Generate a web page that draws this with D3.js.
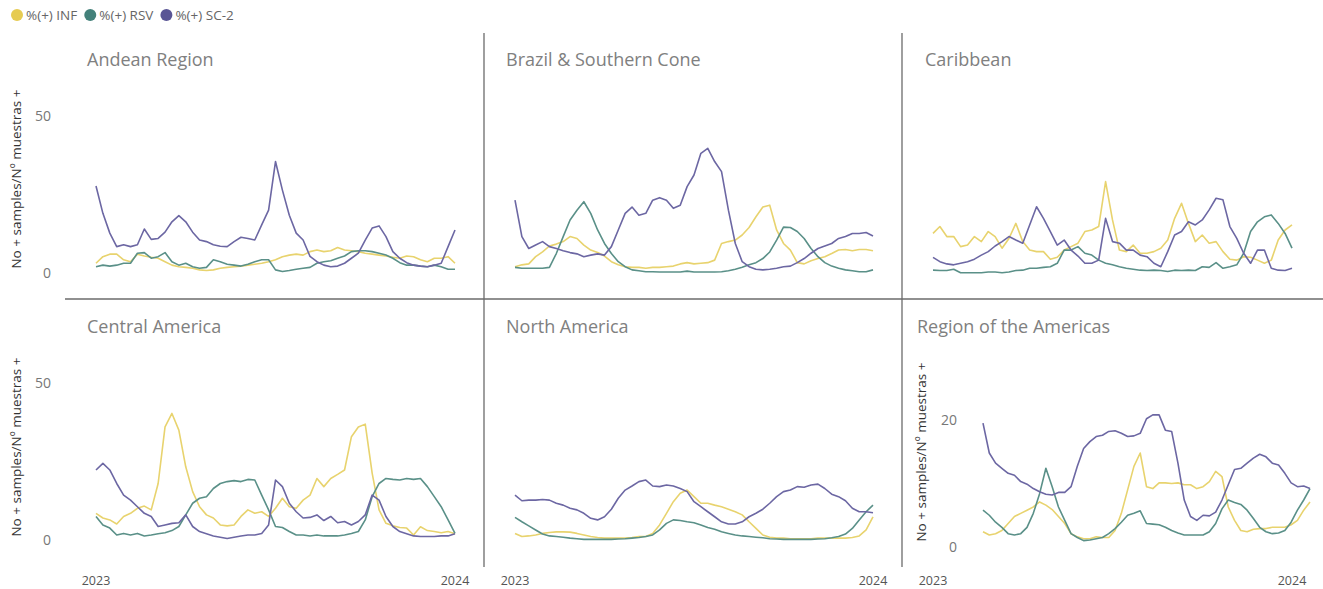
<!DOCTYPE html>
<html>
<head>
  <meta charset="utf-8">
  <script src="https://d3js.org/d3.v7.min.js"></script>
  <style>
    body { margin: 0; background: #fff; }
    text { font-family: "Segoe UI", "Open Sans", sans-serif; }
  </style>
</head>
<body>
<div id="my_dataviz"></div>
<script>
// weekly points, first week of 2023 to first week of 2024
const weeks = d3.range(53).map(i => new Date(2023, 0, 1 + 7 * i));
const xTickLabels = ["2023", "2024"];
const seriesNames = ["%(+) INF", "%(+) RSV", "%(+) SC-2"];
const regions = ["Andean Region", "Brazil & Southern Cone", "Caribbean", "Central America", "North America", "Region of the Americas"];

const andeanINF = [3.1,5.2,6.0,6.0,4.2,3.6,6.0,5.4,5.0,4.7,3.6,2.5,2.0,1.8,1.5,1.0,0.8,1.0,1.5,1.8,2.0,2.2,2.5,2.8,3.1,3.6,4.2,5.2,5.7,6.0,5.7,6.8,7.3,6.8,7.1,8.1,7.3,7.1,6.8,6.3,6.0,5.7,5.4,5.0,4.7,5.4,5.2,4.2,3.6,4.7,4.7,5.2,3.1];
const andeanRSV = [2.0,2.5,2.2,2.5,3.1,3.1,6.3,6.5,4.7,5.2,6.5,3.6,2.5,3.1,2.0,1.5,1.8,4.2,3.6,2.8,2.5,2.2,2.8,3.6,4.2,4.2,1.0,0.5,0.8,1.2,1.5,1.8,3.1,3.6,3.9,4.7,5.4,6.8,7.1,7.1,6.8,6.3,5.7,4.7,3.3,2.5,2.5,2.2,2.0,2.5,2.0,1.2,1.2];
const andeanSC2 = [27.7,19,12.7,8.4,9,8.4,9,14,10.7,11,13,16.3,18.3,16.3,13,10.5,10,9,8.5,8.4,10,11.4,11,10.5,15.3,20,35.5,26.4,18.4,12.7,10.5,5.3,3.6,2.5,2.0,2.2,3.1,4.7,6.3,10.5,14.3,15,11.6,6.8,4.7,3.3,2.5,2.2,2.0,2.5,3.1,8.4,13.7];

const brazilINF = [2.0,2.6,2.9,5.2,6.7,8.6,9.2,10,11.6,11,8.9,7.3,6.5,5.4,3.6,2.6,2.0,1.8,1.8,1.5,1.8,1.8,2.0,2.2,2.9,3.3,2.9,3.1,3.3,4.1,9.4,10,10.5,12.1,14.5,17.9,21,21.6,13.7,9.4,7.3,3.3,2.9,3.9,4.6,5.2,6.2,7.3,7.5,7.1,7.5,7.5,7.1];
const brazilRSV = [1.8,1.5,1.5,1.5,1.5,1.8,6.2,11.6,16.9,20,22.7,19,13.7,9.4,6.2,3.6,2.0,1.0,0.7,0.4,0.4,0.3,0.3,0.3,0.3,0.6,0.3,0.3,0.3,0.3,0.4,0.7,1.2,1.8,2.6,3.3,4.6,6.7,10.5,14.6,14.5,13.2,11,7.8,5.2,3.3,2.2,1.5,1.0,0.7,0.4,0.4,1.0];
const brazilSC2 = [23.2,11.6,7.8,8.9,10,8.4,7.8,7.1,6.5,6.1,5.2,5.7,6.1,5.7,8.4,13.7,19,21,18.4,19,23.2,24,23.2,20.6,21.6,27.5,31.2,38.1,39.7,35.5,32.3,20,9.4,3.6,2.0,1.2,1.0,1.2,1.5,2.0,2.2,3.3,4.6,6.3,7.8,8.6,9.4,11,11.6,12.6,12.6,12.9,11.8];

const caribINF = [12.6,14.8,11.6,11.6,8.4,8.9,11.6,10,13.2,11.6,7.9,11,15.8,10,7.3,6.8,6.8,4.4,5.0,7.3,8.4,9.5,13.2,13.7,14.8,29.1,16.9,7.3,6.8,8.9,6.3,6.3,6.8,7.9,10.5,17.4,22.2,15.8,10,12.1,9.5,10,6.8,4.4,4.1,5.2,5.0,4.1,3.1,4.1,10.5,13.7,15.3];
const caribRSV = [0.9,0.8,0.8,1.2,0.1,0.1,0.1,0.1,0.3,0.3,0.1,0.3,0.8,0.9,1.5,1.5,1.8,2.0,3.1,7.3,7.3,8.4,6.3,5.7,4.1,3.1,2.6,2.0,1.5,1.2,0.9,0.8,0.9,0.8,0.5,0.9,0.8,0.9,0.8,2.0,1.8,3.3,1.5,2.0,2.6,6.3,13.2,16.3,17.9,18.5,15.8,12.6,7.9];
const caribSC2 = [5.0,3.6,2.9,2.6,3.1,3.6,4.4,5.7,6.8,8.6,10,11.6,10.5,9.5,15.3,21.1,17.4,13.2,8.9,10.5,7.3,5.4,3.1,3.1,4.1,17.4,10,9.5,7.3,7.3,5.7,5.2,3.1,2.0,6.8,12.1,13.2,16.3,15.3,16.9,20.1,23.8,23.3,14.8,11,6.3,3.1,7.3,7.3,1.5,0.9,0.8,1.5];

const centralINF = [8.5,7.0,6.4,5.1,7.5,8.5,10.1,10.8,9.6,18,36,40.3,35,23.3,15.4,10.6,8,7.0,4.8,4.5,4.8,7.5,9.6,8.5,9.0,7.5,10.1,13.3,10.6,10.1,12.7,14.3,19.6,17,19.6,20.9,22.3,32.9,36,36.9,21.3,9.6,5.3,4.5,4.0,3.8,1.6,4.2,3.0,2.7,2.3,2.7,2.0];
const centralRSV = [7.5,4.8,3.8,1.6,2.1,1.6,2.1,1.3,1.6,2.0,2.3,3.0,4.3,8,11.7,13.3,13.8,16.4,18,18.6,18.9,18.6,19.3,19.1,14.3,9.6,4.3,4.0,2.7,1.6,1.6,1.3,1.6,1.3,1.3,1.3,1.6,2.1,2.7,6.4,13.8,18,19.6,19.3,19.1,19.6,19.3,19.6,17,13.8,10.6,6.4,2.1];
const centralSC2 = [22.3,24.4,22.3,18,14.3,12.7,10.6,8.5,7.5,4.3,4.8,5.3,5.5,8,4.3,2.7,2.0,1.3,0.9,0.5,0.9,1.3,1.6,1.6,2.1,4.8,19.1,17,11.7,9,7.0,7.2,8,6.2,7.5,5.5,5.9,4.8,5.9,8,14.3,12.7,7.5,4.3,2.7,2.0,1.3,1.1,1.1,1.1,1.3,1.3,2.0];

const northINF = [2.1,1.1,1.3,1.6,2.1,2.4,2.6,2.6,2.5,2.1,1.6,1.1,0.8,0.6,0.6,0.6,0.6,0.8,1.1,1.1,2.1,4.8,8.5,12.2,14.9,15.9,13.8,11.7,11.7,11.1,10.6,9.8,9,8,5.8,3.7,1.6,0.9,0.6,0.6,0.4,0.4,0.4,0.4,0.6,0.6,0.6,0.6,0.6,0.8,1.3,3.2,7.4];
const northRSV = [7.2,5.8,4.5,3.2,1.9,1.3,1.1,0.9,0.6,0.4,0.2,0.2,0.2,0.2,0.2,0.3,0.4,0.6,0.8,1.1,1.6,3.2,5.3,6.4,6.2,5.8,5.5,4.8,4.0,3.4,2.6,2.1,1.6,1.3,1.1,0.9,0.7,0.4,0.3,0.2,0.2,0.2,0.2,0.2,0.3,0.4,0.7,1.1,1.9,3.7,6.4,9,11.1];
const northSC2 = [14.3,12.5,12.7,12.7,12.9,12.7,11.7,11.1,10.1,9.6,8.5,6.9,6.4,7.4,9.8,13.3,15.9,17.2,18.6,19.1,17.2,17,17.5,17.2,16.4,15.4,12.2,10.6,9,7.4,5.8,5.1,5.1,5.8,7.4,8.5,9.8,11.7,13.8,15.4,15.9,17,16.8,17.5,17.8,16.4,14.6,13.8,12.5,10.1,9,9,8.7];

const americasINF = [2.4,1.9,2.1,2.6,3.7,4.8,5.3,5.8,6.3,7.1,6.6,5.9,4.8,3.7,2.1,1.6,1.3,1.3,1.6,1.5,1.5,2.6,5.3,9.0,12.7,14.8,9.5,9.2,10.1,10.1,10,10.1,9.8,9.8,9.2,9.5,10.3,11.9,11.1,6.3,4.2,2.6,2.4,2.8,2.9,2.9,3.1,3.1,3.1,3.5,4.2,5.8,7.1];
const americasRSV = [5.8,5.0,3.9,3.1,2.1,1.9,2.1,3.1,5.3,8.4,12.4,9.5,6.3,4.2,2.1,1.5,1.0,1.1,1.3,1.5,2.1,2.9,3.9,5.0,5.3,5.7,3.7,3.6,3.5,3.1,2.6,2.2,1.9,1.9,1.9,1.9,2.4,3.7,6.0,7.4,7.0,6.7,5.8,4.5,3.1,2.4,2.1,2.2,2.6,3.9,5.8,7.4,9.2];
const americasSC2 = [19.5,14.8,13.2,12.4,11.6,11.3,10.3,9.9,9.2,8.7,8.3,8.2,8.6,8.6,9.5,12.7,15.5,16.6,17.4,17.6,18.2,18.3,17.9,17.4,17.5,17.9,20.2,20.8,20.8,18.4,18.2,13.2,7.4,4.8,4.2,5.0,4.9,5.5,7.4,9.8,12.2,12.4,13.2,14,14.6,14.2,13.2,12.9,11.6,10.1,9.5,9.6,9.2];

const colors = ["#E6CB52", "#43817A", "#5A5595"];
const lineColors = ["#E8D36E", "#5A9088", "#6C67A3"];

const panelData = [
  [andeanINF, andeanRSV, andeanSC2],
  [brazilINF, brazilRSV, brazilSC2],
  [caribINF, caribRSV, caribSC2],
  [centralINF, centralRSV, centralSC2],
  [northINF, northRSV, northSC2],
  [americasINF, americasRSV, americasSC2]
];

const width = 1323, height = 589;
const svg = d3.select("#my_dataviz").append("svg")
  .attr("width", width).attr("height", height);

// panel frames: column ranges for x labels, inner ranges for lines
const cols = [[96, 455], [515, 873], [933, 1292]];
const rows = [{zero: 273, top: 116}, {zero: 540, top: 383}];

const yRow = rows.map(r => d3.scaleLinear().domain([0, 50]).range([r.zero, r.top]));
const yAmericas = d3.scaleLinear().domain([0, 20]).range([547, 420]);

const panels = regions.map((name, k) => {
  const r = Math.floor(k / 3), c = k % 3;
  const lineRange = (k === 5) ? [983, 1310] : cols[c];
  return {
    name, r, c,
    x: d3.scaleTime().domain([weeks[0], weeks[52]]).range(lineRange),
    xLab: d3.scaleTime().domain([weeks[0], weeks[52]]).range(cols[c]),
    y: (k === 5) ? yAmericas : yRow[r],
    data: panelData[k]
  };
});

// grid dividers
svg.append("line").attr("x1", 65).attr("x2", width).attr("y1", 299).attr("y2", 299)
  .attr("stroke", "#6b6b6b").attr("stroke-width", 1.3);
[484, 902].forEach(xv => {
  svg.append("line").attr("x1", xv).attr("x2", xv).attr("y1", 33).attr("y2", 567)
    .attr("stroke", "#6b6b6b").attr("stroke-width", 1.3);
});

const titleX = [87, 506, 925];
const titleY = [66, 333];

panels.forEach((p, k) => {
  const g = svg.append("g");

  g.append("text")
    .attr("x", k === 5 ? 917 : titleX[p.c]).attr("y", titleY[p.r])
    .attr("fill", "#808080").style("font-size", "18px")
    .text(p.name);

  // y axis only for first column and the Americas panel
  if (p.c === 0 || k === 5) {
    const ticks = (k === 5) ? [0, 20] : [0, 50];
    const tx = (k === 5) ? 957 : 51;
    const axis = d3.axisLeft(p.y).tickValues(ticks).tickSize(0).tickPadding(0);
    const ga = g.append("g").attr("transform", `translate(${tx},0)`).call(axis);
    ga.select(".domain").remove();
    ga.selectAll("text").attr("fill", "#777").style("font-size", "14px")
      .style("font-family", "'Segoe UI', 'Open Sans', sans-serif");

    const ax = (k === 5) ? 926 : 21;
    const ay = (k === 5) ? 452 : (p.r === 0 ? 179 : 447);
    g.append("text")
      .attr("transform", `translate(${ax},${ay}) rotate(-90)`)
      .attr("text-anchor", "middle")
      .attr("fill", "#333").style("font-size", "13.5px")
      .text("No + samples/N\u00ba muestras +");
  }

  // x labels on bottom row
  if (p.r === 1) {
    g.selectAll(".xl").data([weeks[0], weeks[52]]).join("text")
      .attr("x", d => p.xLab(d)).attr("y", 585)
      .attr("text-anchor", "middle")
      .attr("fill", "#555").style("font-size", "12.5px")
      .text((d, i) => xTickLabels[i]);
  }

  const line = d3.line().x((d, i) => p.x(weeks[i])).y(d => p.y(d));
  p.data.forEach((s, j) => {
    g.append("path").datum(s)
      .attr("d", line)
      .attr("fill", "none")
      .attr("stroke", lineColors[j])
      .attr("stroke-width", 1.6)
      .attr("stroke-linejoin", "round");
  });
});

// legend
const leg = svg.append("g");
let lx = 11;
seriesNames.forEach((nm, j) => {
  leg.append("circle").attr("cx", lx + 6).attr("cy", 15).attr("r", 6).attr("fill", colors[j]);
  const t = leg.append("text").attr("x", lx + 15).attr("y", 20)
    .attr("fill", "#666").style("font-size", "13.5px").text(nm);
  lx += 15 + t.node().getComputedTextLength() + 7;
});
</script>
</body>
</html>
